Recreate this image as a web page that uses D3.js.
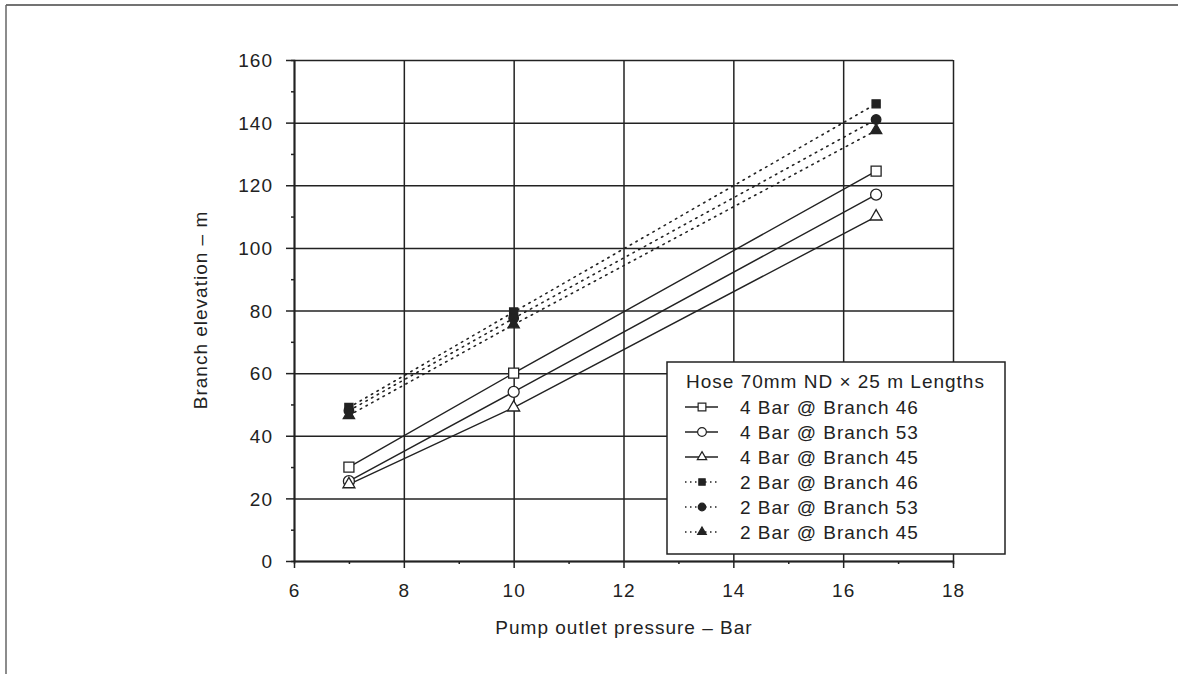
<!DOCTYPE html>
<html lang="en">
    <head>
        <meta charset="utf-8">
        <title>Branch elevation vs pump outlet pressure</title>
        <script type="text/javascript" src="https://d3js.org/d3.v7.min.js"></script>
        <style type="text/css">
          body { margin: 0; background: white; }
          text { font-family: "Liberation Sans", Arial, sans-serif; fill: #222; letter-spacing: 1px; }
        </style>
    </head>
    <body>
        <script type="text/javascript">
        var w = 1178;
        var h = 674;

        // data
        var pressure = [7, 10, 16.6];
        var xTicks = [6, 8, 10, 12, 14, 16, 18];
        var yTicks = [0, 20, 40, 60, 80, 100, 120, 140, 160];
        var legendTitle = "Hose 70mm ND \u00d7 25 m Lengths";
        var seriesNames = ["4 Bar @ Branch 46", "4 Bar @ Branch 53", "4 Bar @ Branch 45",
                           "2 Bar @ Branch 46", "2 Bar @ Branch 53", "2 Bar @ Branch 45"];
        var bar4b46 = [30, 60, 124.5];
        var bar4b53 = [25.5, 54, 117];
        var bar4b45 = [24.5, 49, 110];
        var bar2b46 = [49, 79.5, 146];
        var bar2b53 = [48, 77.5, 141];
        var bar2b45 = [46.5, 75.5, 137.5];

        var seriesVals = [bar4b46, bar4b53, bar4b45, bar2b46, bar2b53, bar2b45];
        var shapes = [d3.symbolSquare, d3.symbolCircle, d3.symbolTriangle,
                      d3.symbolSquare, d3.symbolCircle, d3.symbolTriangle];
        var filled = [false, false, false, true, true, true];
        var markSize = [100, 95, 62, 66, 72, 55];
        var legSize = [60, 60, 38, 40, 45, 32];

        var ink = "#222";

        var svg = d3.select("body").append("svg")
                    .attr("width", w)
                    .attr("height", h);

        // page frame (top and left edges of the scanned page)
        svg.append("line").attr("x1", 6).attr("x2", w).attr("y1", 5).attr("y2", 5)
           .attr("stroke", "#444").attr("stroke-width", 1.5);
        svg.append("line").attr("x1", 6).attr("x2", 6).attr("y1", 5).attr("y2", h)
           .attr("stroke", "#666").attr("stroke-width", 1.5);

        var x = d3.scaleLinear().domain([6, 18]).range([294, 953]);
        var y = d3.scaleLinear().domain([0, 160]).range([561, 60]);

        // grid
        svg.append("g")
           .attr("transform", "translate(0,561)")
           .call(d3.axisBottom(x).tickValues(xTicks).tickSize(-(561 - 60)).tickFormat(""))
           .call(function(g){ g.select(".domain").remove(); })
           .selectAll("line").attr("stroke", ink).attr("stroke-width", 1.5);
        svg.append("g")
           .attr("transform", "translate(294,0)")
           .call(d3.axisLeft(y).tickValues(yTicks).tickSize(-(953 - 294)).tickFormat(""))
           .call(function(g){ g.select(".domain").remove(); })
           .selectAll("line").attr("stroke", ink).attr("stroke-width", 1.5);

        // axes with outside ticks
        var yAxis = svg.append("g")
           .attr("transform", "translate(294,0)")
           .call(d3.axisLeft(y).tickValues(yTicks).tickSize(8).tickSizeOuter(0).tickPadding(13));
        var yMinor = svg.append("g")
           .attr("transform", "translate(294,0)")
           .call(d3.axisLeft(y).tickValues(d3.range(10, 160, 20)).tickSize(3).tickFormat(""));
        var xAxis = svg.append("g")
           .attr("transform", "translate(0,561)")
           .call(d3.axisBottom(x).tickValues(xTicks).tickSize(7).tickSizeOuter(0).tickPadding(16));
        var xMinor = svg.append("g")
           .attr("transform", "translate(0,561)")
           .call(d3.axisBottom(x).tickValues(d3.range(7, 18, 2)).tickSize(3).tickFormat(""));

        [yAxis, yMinor, xAxis, xMinor].forEach(function(g){
          g.selectAll(".domain").attr("stroke", ink).attr("stroke-width", 1.5);
          g.selectAll("line").attr("stroke", ink).attr("stroke-width", 1.5);
          g.selectAll("text").attr("font-size", "19px").attr("fill", ink)
           .style("font-family", "Liberation Sans, Arial, sans-serif");
        });
        yAxis.selectAll("text").attr("dy", "0.35em");

        // axis titles
        svg.append("text")
           .attr("x", 624).attr("y", 634)
           .attr("text-anchor", "middle")
           .attr("font-size", "19px")
           .text("Pump outlet pressure \u2013 Bar");
        svg.append("text")
           .attr("transform", "translate(207,310) rotate(-90)")
           .attr("text-anchor", "middle")
           .attr("font-size", "19px")
           .text("Branch elevation \u2013 m");

        // series lines
        var line = d3.line()
            .x(function(d, i){ return x(pressure[i]); })
            .y(function(d){ return y(d); });

        seriesVals.forEach(function(vals, k){
          svg.append("path")
             .datum(vals)
             .attr("fill", "none")
             .attr("stroke", ink)
             .attr("stroke-width", filled[k] ? 1.6 : 1.4)
             .attr("stroke-dasharray", filled[k] ? "1.5,5" : null)
             .attr("stroke-linecap", "round")
             .attr("d", line);
        });

        // markers
        seriesVals.forEach(function(vals, k){
          svg.selectAll(".m" + k)
             .data(vals)
             .enter()
             .append("path")
             .attr("class", "m" + k)
             .attr("transform", function(d, i){
               return "translate(" + x(pressure[i]) + "," + y(d) + ")";
             })
             .attr("d", d3.symbol().type(shapes[k]).size(markSize[k]))
             .attr("fill", filled[k] ? ink : "white")
             .attr("stroke", ink)
             .attr("stroke-width", 1.3);
        });

        // legend
        var leg = svg.append("g");
        leg.append("rect")
           .attr("x", 667).attr("y", 362)
           .attr("width", 338).attr("height", 192)
           .attr("fill", "white")
           .attr("stroke", ink)
           .attr("stroke-width", 1.5);
        leg.append("text")
           .attr("x", 686).attr("y", 388)
           .attr("font-size", "19px")
           .text(legendTitle);

        seriesNames.forEach(function(name, k){
          var cy = 407 + 25 * k;
          leg.append("line")
             .attr("x1", 685).attr("x2", 718)
             .attr("y1", cy).attr("y2", cy)
             .attr("stroke", ink)
             .attr("stroke-width", filled[k] ? 1.6 : 1.3)
             .attr("stroke-dasharray", filled[k] ? "1.5,3.5" : null);
          leg.append("path")
             .attr("transform", "translate(702," + cy + ")")
             .attr("d", d3.symbol().type(shapes[k]).size(legSize[k]))
             .attr("fill", filled[k] ? ink : "white")
             .attr("stroke", ink)
             .attr("stroke-width", 1.2);
          leg.append("text")
             .attr("x", 740).attr("y", cy + 7)
             .attr("font-size", "19px")
             .text(name);
        });
        </script>
    </body>
</html>
